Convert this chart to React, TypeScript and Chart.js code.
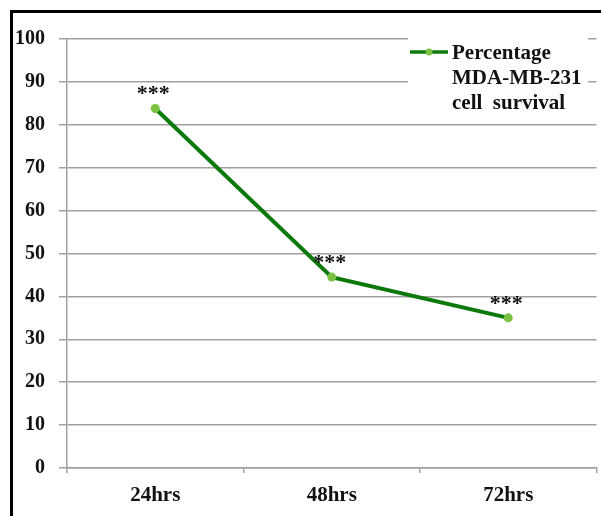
import React, { useEffect, useRef } from "react";
import { Chart, registerables } from "chart.js";

Chart.register(...registerables);

const categories = ["24hrs", "48hrs", "72hrs"];
const survival = [83.8, 44.5, 35];
const significance = ["***", "***", "***"];
const legendLines = ["Percentage", "MDA-MB-231", "cell  survival"];
const yTicks = { min: 0, max: 100, step: 10 };

const FONT = "'Liberation Serif', 'Times New Roman', serif";
const LINE_COLOR = "#0b7a0b";
const POINT_COLOR = "#7cc242";
const GRID = "#a0a0a0";

const framePlugin = {
  id: "frame",
  beforeDraw(chart: any) {
    const ctx = chart.ctx;
    ctx.save();
    ctx.fillStyle = "#ffffff";
    ctx.fillRect(0, 0, chart.width, chart.height);
    ctx.fillStyle = "#000000";
    ctx.fillRect(10, 10, chart.width - 10, 3);
    ctx.fillRect(10, 10, 3, chart.height - 10);
    ctx.restore();
  },
};

const starsPlugin = {
  id: "stars",
  afterDatasetsDraw(chart: any) {
    const ctx = chart.ctx;
    const meta = chart.getDatasetMeta(0);
    ctx.save();
    ctx.fillStyle = "#111";
    ctx.font = `bold 22px ${FONT}`;
    ctx.textAlign = "center";
    ctx.textBaseline = "middle";
    meta.data.forEach((pt: any, i: number) => {
      ctx.fillText(significance[i], pt.x - 2, pt.y - 14);
    });
    ctx.restore();
  },
};

const legendPlugin = {
  id: "customLegend",
  afterDraw(chart: any) {
    const ctx = chart.ctx;
    ctx.save();
    ctx.fillStyle = "#ffffff";
    ctx.fillRect(408, 33, 180, 86);
    ctx.strokeStyle = LINE_COLOR;
    ctx.lineWidth = 3.5;
    ctx.beginPath();
    ctx.moveTo(410, 52);
    ctx.lineTo(448, 52);
    ctx.stroke();
    ctx.fillStyle = POINT_COLOR;
    ctx.beginPath();
    ctx.arc(429, 52, 3.5, 0, Math.PI * 2);
    ctx.fill();
    ctx.fillStyle = "#111";
    ctx.font = `bold 21px ${FONT}`;
    ctx.textAlign = "left";
    ctx.textBaseline = "middle";
    legendLines.forEach((t, i) => {
      ctx.fillText(t, 452, 54 + i * 25);
    });
    ctx.restore();
  },
};

export default function App() {
  const ref = useRef<HTMLCanvasElement>(null);
  useEffect(() => {
    if (!ref.current) return;
    const chart = new Chart(ref.current, {
      type: "line",
      data: {
        labels: categories,
        datasets: [
          {
            label: legendLines.join(" "),
            data: survival,
            borderColor: LINE_COLOR,
            borderWidth: 4,
            pointRadius: 4.5,
            pointBackgroundColor: POINT_COLOR,
            pointBorderColor: POINT_COLOR,
            pointBorderWidth: 0,
            tension: 0,
          },
        ],
      },
      options: {
        responsive: false,
        animation: false,
        layout: { padding: { top: 39, right: 1, left: 0, bottom: 0 } },
        plugins: { legend: { display: false }, tooltip: { enabled: false } },
        scales: {
          x: {
            offset: true,
            grid: {
              offset: true,
              drawOnChartArea: false,
              tickLength: 5,
              color: GRID,
              lineWidth: 1.5,
            },
            border: { color: GRID, width: 1.5 },
            ticks: {
              color: "#111",
              font: { family: FONT, size: 21, weight: "bold" },
              padding: 10,
            },
            afterFit(scale: any) {
              scale.height = 48;
            },
          },
          y: {
            min: yTicks.min,
            max: yTicks.max,
            ticks: {
              stepSize: yTicks.step,
              color: "#111",
              font: { family: FONT, size: 20, weight: "bold" },
              padding: 14,
            },
            grid: { color: GRID, lineWidth: 1.5, tickLength: 8 },
            border: { color: GRID, width: 1.5 },
            afterFit(scale: any) {
              scale.width = 67;
            },
          },
        },
      },
      plugins: [framePlugin, starsPlugin, legendPlugin],
    });
    return () => chart.destroy();
  }, []);
  return (
    <div style={{ position: "fixed", left: 0, top: 0, width: 601, height: 516 }}>
      <canvas ref={ref} width={601} height={516} style={{ display: "block" }} />
    </div>
  );
}
